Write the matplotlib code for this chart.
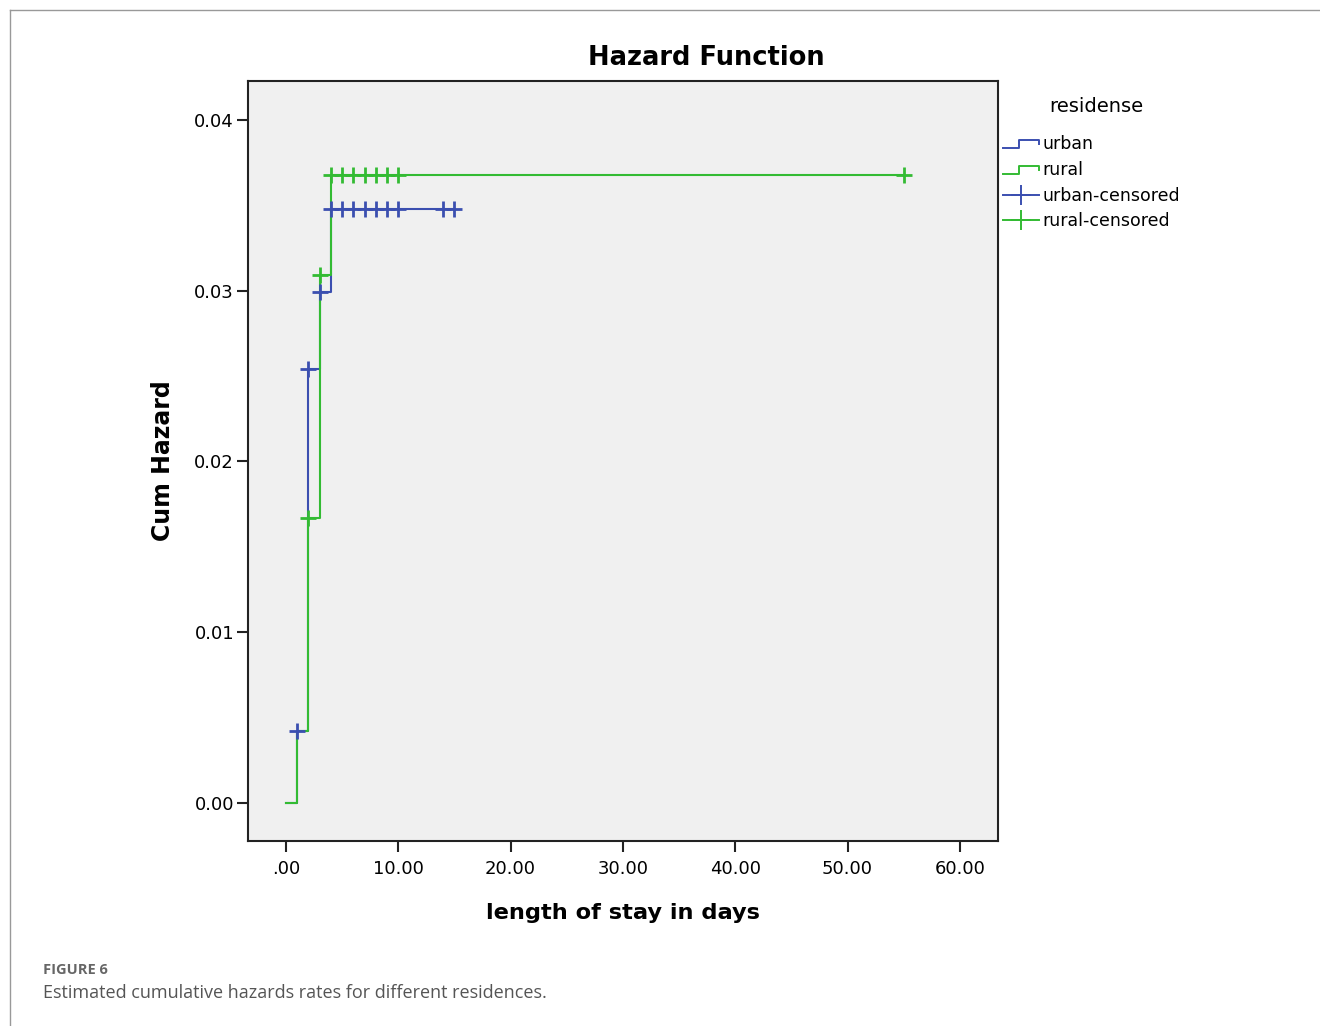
import numpy as np
import matplotlib
matplotlib.use("Agg")
import matplotlib.pyplot as plt
from matplotlib.lines import Line2D
from matplotlib.legend_handler import HandlerBase

# step data (time in days, cumulative hazard)
urban_t = [0, 1, 2, 3, 4, 15]
urban_h = [0.0, 0.0042, 0.0254, 0.0299, 0.0348, 0.0348]
rural_t = [0, 1, 2, 3, 4, 55]
rural_h = [0.0, 0.0042, 0.0167, 0.0309, 0.0368, 0.0368]

# censored times
urban_cens = [1, 2, 3, 4, 5, 6, 7, 8, 9, 10, 14, 15]
rural_cens = [2, 3, 4, 5, 6, 7, 8, 9, 10, 55]

x_ticks = [0, 10, 20, 30, 40, 50, 60]
x_labels = ['.00', '10.00', '20.00', '30.00', '40.00', '50.00', '60.00']
y_ticks = [0.00, 0.01, 0.02, 0.03, 0.04]
y_labels = ['0.00', '0.01', '0.02', '0.03', '0.04']

blue = '#3b4fb0'
green = '#33bb33'


def step_value(t_arr, h_arr, t):
    i = np.searchsorted(t_arr, t, side='right') - 1
    return h_arr[i]


class StepHandler(HandlerBase):
    def create_artists(self, legend, orig_handle, xdescent, ydescent,
                       width, height, fontsize, trans):
        xs = np.array([0, 0.45, 0.45, 1.0, 1.0]) * width - xdescent
        ys = np.array([0.1, 0.1, 0.75, 0.75, 0.4]) * height - ydescent
        ln = Line2D(xs, ys, color=orig_handle.get_color(), lw=1.4, transform=trans)
        return [ln]


fig = plt.figure(figsize=(13.2, 10.26), dpi=100)
ax = fig.add_axes([248/1320, 1 - 841/1026, 750/1320, 760/1026])
ax.set_facecolor('#f0f0f0')

l_urban, = ax.step(urban_t, urban_h, where='post', color=blue, lw=1.5, zorder=2)
l_rural, = ax.step(rural_t, rural_h, where='post', color=green, lw=1.5, zorder=3)

uc_y = [step_value(urban_t, urban_h, t) for t in urban_cens]
rc_y = [step_value(rural_t, rural_h, t) for t in rural_cens]
ax.plot(urban_cens, uc_y, ls='none', marker='+', ms=11, mew=2, color=blue, zorder=4)
ax.plot(rural_cens, rc_y, ls='none', marker='+', ms=11, mew=2, color=green, zorder=5)

ax.set_xlim(-3.38, 63.4)
ax.set_ylim(-0.00223, 0.04228)
ax.set_xticks(x_ticks)
ax.set_xticklabels(x_labels)
ax.set_yticks(y_ticks)
ax.set_yticklabels(y_labels)
ax.tick_params(axis='both', labelsize=13, length=8, width=1.5, color='#222222')
ax.tick_params(axis='x', pad=6)
ax.tick_params(axis='y', pad=2)
for s in ax.spines.values():
    s.set_linewidth(1.5)
    s.set_color('#222222')

ax.set_xlabel('length of stay in days', fontsize=16.2, fontweight='bold', labelpad=18)
ax.set_ylabel('Cum Hazard', fontsize=17, fontweight='bold', labelpad=14)
fig.text(706/1320, 1 - 58/1026, 'Hazard Function', fontsize=18.5, fontweight='bold',
         ha='center', va='center')

# legend (censored handles are a line with a cross)
h_uc = Line2D([], [], color=blue, lw=1.4, marker='+', ms=14, mew=1.4)
h_rc = Line2D([], [], color=green, lw=1.4, marker='+', ms=14, mew=1.4)
fig.text(1096/1320, 1 - 107/1026, 'residense', fontsize=14, ha='center', va='center')
leg = fig.legend([l_urban, l_rural, h_uc, h_rc],
                 ['urban', 'rural', 'urban-censored', 'rural-censored'],
                 handler_map={l_urban: StepHandler(), l_rural: StepHandler()},
                 loc='upper left', bbox_to_anchor=(1003/1320, 1 - 135/1026),
                 frameon=False, fontsize=12.5, numpoints=1,
                 handlelength=2.1, handletextpad=0.15,
                 labelspacing=0.45, borderaxespad=0, borderpad=0)

# figure frame and caption
fig.add_artist(Line2D([10/1320, 10/1320], [0, 1 - 10/1026], color='#999999', lw=1))
fig.add_artist(Line2D([10/1320, 1], [1 - 10/1026, 1 - 10/1026], color='#999999', lw=1))
fig.text(43/1320, 1 - 970/1026, 'FIGURE 6', fontsize=10.5, fontweight='bold',
         color='#666666', family='Open Sans', va='center')
fig.text(43/1320, 1 - 993/1026, 'Estimated cumulative hazards rates for different residences.',
         fontsize=13, color='#555555', family='Open Sans', va='center')

plt.savefig('out.png', dpi=100)
